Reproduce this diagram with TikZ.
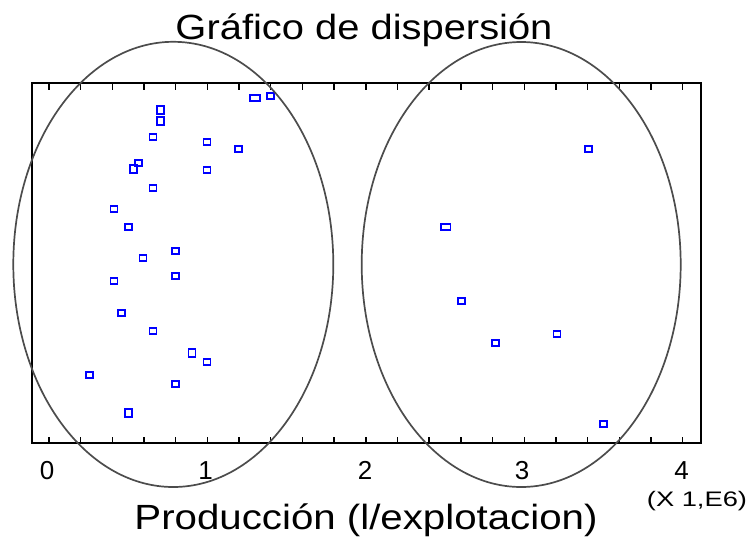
\documentclass[tikz,border=0pt]{standalone}
\usepackage{fontspec}
\setmainfont{Liberation Sans}
\usepackage{graphicx}
\begin{document}
\begin{tikzpicture}[x=1pt,y=-1pt,
  mk/.style={rectangle, draw=blue, line width=1.8pt, inner sep=0pt, minimum width=7pt, minimum height=6pt},
  mkw/.style={mk, minimum width=9.5pt},
  mkt/.style={mk, minimum height=8pt},
  ell/.style={draw=black!70, line width=1.7pt},
  frame/.style={draw=black, line width=1.7pt},
  tk/.style={draw=black, line width=1.4pt},
  lbl/.style={inner sep=0pt, anchor=base},
  ticklbl/.style={lbl, font=\fontsize{26}{26}\selectfont},
  big/.style={lbl, font=\fontsize{35}{35}\selectfont}]
\useasboundingbox (0,0) rectangle (751,538);
% frame and ticks
\draw[frame] (31.7,83.3) rectangle (700.7,443.3);
\foreach \i in {0,...,20} {
  \draw[tk] ({49+\i*31.68},443.3) -- ++(0,-6.5);
  \draw[tk] ({49+\i*31.68},83.3) -- ++(0,6.5);
}
% markers, left cluster
\node[mkw] (p1) at (255,97.7) {};
\node[mk] (p2) at (270.3,95.7) {};
\node[mkt] (p3) at (160.3,110) {};
\node[mkt] (p4) at (160.3,121) {};
\node[mk] (p5) at (153,137.3) {};
\node[mk] (p6) at (207,141.7) {};
\node[mk] (p7) at (238.7,148.7) {};
\node[mk] (p8) at (138.7,162.7) {};
\node[mkt] (p9) at (133.3,168.7) {};
\node[mk] (p10) at (207,169.7) {};
\node[mk] (p11) at (153,188) {};
\node[mk] (p12) at (114,208.7) {};
\node[mk] (p13) at (128.7,227.3) {};
\node[mk] (p14) at (175.3,250.7) {};
\node[mk] (p15) at (143,257.7) {};
\node[mk] (p16) at (114,280.7) {};
\node[mk] (p17) at (175.3,276) {};
\node[mk] (p18) at (121.3,312.7) {};
\node[mk] (p19) at (153,331.3) {};
\node[mkt] (p20) at (192,353.3) {};
\node[mk] (p21) at (207,361.7) {};
\node[mk] (p22) at (89.3,375) {};
\node[mk] (p23) at (175.3,384.3) {};
\node[mkt] (p24) at (128.7,413.3) {};
% markers, right cluster
\node[mk] (p25) at (588.7,148.7) {};
\node[mkw] (p26) at (445.7,227.3) {};
\node[mk] (p27) at (461.7,301) {};
\node[mk] (p28) at (495.7,343) {};
\node[mk] (p29) at (557,333.7) {};
\node[mk] (p30) at (603.7,423.7) {};
% ellipses
\draw[ell] (173.3,264.4) ellipse [x radius=160pt, y radius=222.6pt];
\draw[ell] (521.2,264.5) ellipse [x radius=159.5pt, y radius=222.5pt];
% tick labels
\node[ticklbl] (t0) at (47,479) {0};
\node[ticklbl] (t1) at (205.5,479) {1};
\node[ticklbl] (t2) at (365,479) {2};
\node[ticklbl] (t3) at (522,479) {3};
\node[ticklbl] (t4) at (681.7,479) {4};
\node[lbl, font=\fontsize{21}{21}\selectfont] (mult) at (697,506.5) {\scalebox{1.3}[1]{(X 1,E6)}};
% titles
\node[big] (title) at (364,39) {\scalebox{1.14}[1]{Gráfico de dispersión}};
\node[big] (xlab) at (366,529) {\scalebox{1.15}[1]{Producción (l/explotacion)}};
\end{tikzpicture}
\end{document}
